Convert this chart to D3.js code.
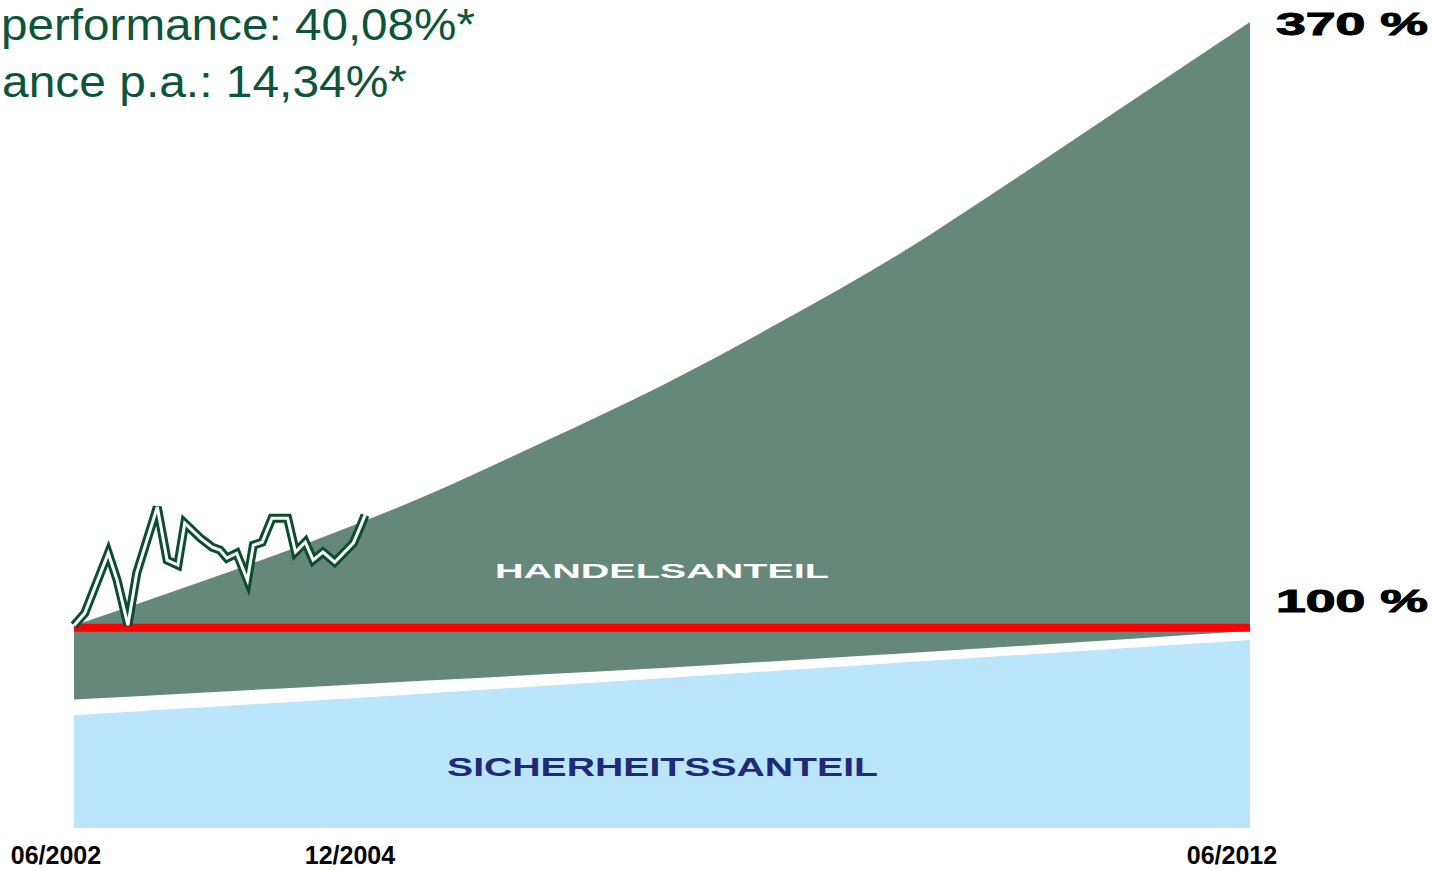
<!DOCTYPE html>
<html>
<head>
<meta charset="utf-8">
<script src="https://cdn.jsdelivr.net/npm/d3@7"></script>
<style>
  html, body { margin: 0; padding: 0; background: #fff; overflow: hidden; }
  svg { display: block; }
</style>
</head>
<body>
<script>
// months since 06/2002
var curveMonths = [0, 12, 24, 36, 48, 60, 72, 84, 96, 108, 120];
var tradeTop = [101, 119, 138, 159, 183, 208, 236, 266, 300, 335, 370];

var floorMonths = [0, 30, 60, 90, 120];
var floorValues = [68, 75, 82, 90, 98.5];
var safeTop = [61, 69, 77.5, 86, 94.5];
var safeBottom = 10.7;

var perfMonths = [0, 1.1, 1.9, 3.5, 4.4, 5.5, 6.4, 8.5, 9.5, 10.6, 11.3, 12.9, 14.1, 14.9,
                  15.6, 16.6, 17.7, 18.3, 19.2, 20.2, 21.8, 22.6, 23.6, 24.4, 25.4, 26.6, 28.5, 29.2, 29.7];
var perfValues = [101, 106.5, 115.4, 133.2, 121.2, 101.1, 124.3, 153.8, 130.1, 127.9, 146.6, 139.9, 135.9, 134.6,
                  131.0, 133.2, 121.2, 136.8, 138.1, 148.8, 148.8, 133.7, 138.1, 130.1, 133.7, 129.2, 137.7, 144.8, 150.2];

var tickMonths = [0, 30, 120];
var tickLabels = ["06/2002", "12/2004", "06/2012"];

var levelValues = [370, 100];
var levelLabels = ["370 %", "100 %"];

var width = 1434, height = 871;

var x = d3.scaleLinear().domain([0, 120]).range([74, 1250]);
var y = d3.scaleLinear().domain([0, 370]).range([852, 22]);

var svg = d3.select("body").append("svg")
    .attr("width", width)
    .attr("height", height);

// Handelsanteil (green)
var trade = curveMonths.map(function(m, i) { return {m: m, top: tradeTop[i]}; });
var floor = d3.scaleLinear().domain(floorMonths).range(floorValues);
var greenArea = d3.area()
    .x(function(d) { return x(d.m); })
    .y0(function(d) { return y(floor(d.m)); })
    .y1(function(d) { return y(d.top); })
    .curve(d3.curveMonotoneX);

svg.append("path")
    .datum(trade)
    .attr("d", greenArea)
    .style("fill", "#66887a");

// Sicherheitsanteil (light blue)
var safe = floorMonths.map(function(m, i) { return {m: m, top: safeTop[i]}; });
var blueArea = d3.area()
    .x(function(d) { return x(d.m); })
    .y0(y(safeBottom))
    .y1(function(d) { return y(d.top); });

svg.append("path")
    .datum(safe)
    .attr("d", blueArea)
    .style("fill", "#bbe5fb");

// 100 % line
svg.append("line")
    .attr("x1", x(0))
    .attr("x2", x(120))
    .attr("y1", y(100))
    .attr("y2", y(100))
    .style("stroke", "#ff0000")
    .style("stroke-width", 8);

// performance line, double stroke
var perf = perfMonths.map(function(m, i) { return {m: m, v: perfValues[i]}; });
var line = d3.line()
    .x(function(d) { return x(d.m); })
    .y(function(d) { return y(d.v); });

svg.append("path")
    .datum(perf)
    .attr("d", line)
    .style("fill", "none")
    .style("stroke", "#0b4d30")
    .style("stroke-width", 9)
    .style("stroke-linejoin", "miter");

svg.append("path")
    .datum(perf)
    .attr("d", line)
    .style("fill", "none")
    .style("stroke", "#ffffff")
    .style("stroke-width", 3)
    .style("stroke-linejoin", "miter");

// band labels
svg.append("text")
    .attr("x", 495)
    .attr("y", 578)
    .attr("textLength", 334)
    .attr("lengthAdjust", "spacingAndGlyphs")
    .style("font-family", "Liberation Sans, Arial, sans-serif")
    .style("font-weight", "bold")
    .style("font-size", "20px")
    .style("fill", "#ffffff")
    .text("HANDELSANTEIL");

svg.append("text")
    .attr("x", 447)
    .attr("y", 776)
    .attr("textLength", 431)
    .attr("lengthAdjust", "spacingAndGlyphs")
    .style("font-family", "Liberation Sans, Arial, sans-serif")
    .style("font-weight", "bold")
    .style("font-size", "26px")
    .style("fill", "#1f2a78")
    .text("SICHERHEITSSANTEIL");

// level labels on the right
svg.selectAll(".level")
    .data(levelValues)
  .enter().append("text")
    .attr("class", "level")
    .attr("x", 1276)
    .attr("y", function(d) { return y(d) + (d == 100 ? -16 : 13); })
    .attr("textLength", 152)
    .attr("lengthAdjust", "spacingAndGlyphs")
    .style("font-family", "Liberation Sans, Arial, sans-serif")
    .style("font-weight", "bold")
    .style("font-size", "31px")
    .style("stroke", "#000")
    .style("stroke-width", 1)
    .style("fill", "#000")
    .text(function(d, i) { return levelLabels[i]; });

// date labels
svg.selectAll(".tick")
    .data(tickMonths)
  .enter().append("text")
    .attr("class", "tick")
    .attr("x", function(d) { return x(d) - 18; })
    .attr("y", 864)
    .style("text-anchor", "middle")
    .style("font-family", "Liberation Sans, Arial, sans-serif")
    .style("font-weight", "bold")
    .style("font-size", "25px")
    .style("fill", "#000")
    .text(function(d, i) { return tickLabels[i]; });

// performance text top left
svg.append("text")
    .attr("x", 1)
    .attr("y", 40)
    .attr("textLength", 474)
    .attr("lengthAdjust", "spacingAndGlyphs")
    .style("font-family", "Liberation Sans, Arial, sans-serif")
    .style("font-size", "44px")
    .style("fill", "#0c553a")
    .text("performance: 40,08%*");

svg.append("text")
    .attr("x", 2)
    .attr("y", 97)
    .attr("textLength", 405)
    .attr("lengthAdjust", "spacingAndGlyphs")
    .style("font-family", "Liberation Sans, Arial, sans-serif")
    .style("font-size", "44px")
    .style("fill", "#0c553a")
    .text("ance p.a.: 14,34%*");
</script>
</body>
</html>
